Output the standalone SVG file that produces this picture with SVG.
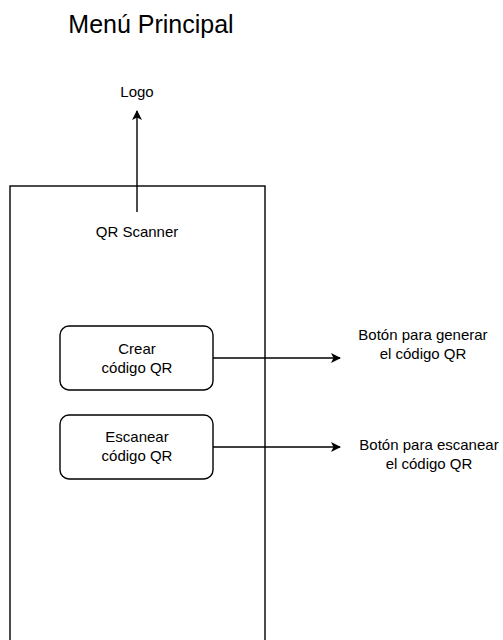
<svg xmlns="http://www.w3.org/2000/svg" width="503" height="640" viewBox="0 0 503 640">
<style>
text{font-family:"Liberation Sans",Arial,sans-serif;fill:#000;text-anchor:middle}
.s{font-size:15px}
.box{fill:#fff;stroke:#000;stroke-width:1.4}
.conn{fill:none;stroke:#000;stroke-width:1.4}
</style>
<defs>
<marker id="arr" viewBox="0 0 10 10" refX="9" refY="5" markerWidth="10" markerHeight="10" markerUnits="userSpaceOnUse" orient="auto">
<path d="M0,0 L10,5 L0,10 L2.5,5 Z" fill="#000"/>
</marker>
</defs>
<rect width="503" height="640" fill="#fff"/>
<g id="title"><text x="151" y="33" style="font-size:25px">Menú Principal</text></g>
<g id="phone"><rect class="box" x="10" y="186" width="255" height="470"/><text class="s" x="137" y="237">QR Scanner</text></g>
<g id="logo"><text class="s" x="137" y="97">Logo</text></g>
<g id="crear"><rect class="box" x="60" y="326" width="153" height="64" rx="9"/><text class="s" x="137" y="354">Crear</text><text class="s" x="137" y="373">código QR</text></g>
<g id="escanear"><rect class="box" x="60" y="415" width="153" height="64" rx="9"/><text class="s" x="137" y="442">Escanear</text><text class="s" x="137" y="461">código QR</text></g>
<g id="label1"><text class="s" x="423" y="340">Botón para generar</text><text class="s" x="423" y="359">el código QR</text></g>
<g id="label2"><text class="s" x="429" y="450">Botón para escanear</text><text class="s" x="429" y="469">el código QR</text></g>
<g id="connectors">
<path class="conn" d="M137,212 V111" marker-end="url(#arr)"/>
<path class="conn" d="M213,358 H340" marker-end="url(#arr)"/>
<path class="conn" d="M213,447 H340" marker-end="url(#arr)"/>
</g>
</svg>
